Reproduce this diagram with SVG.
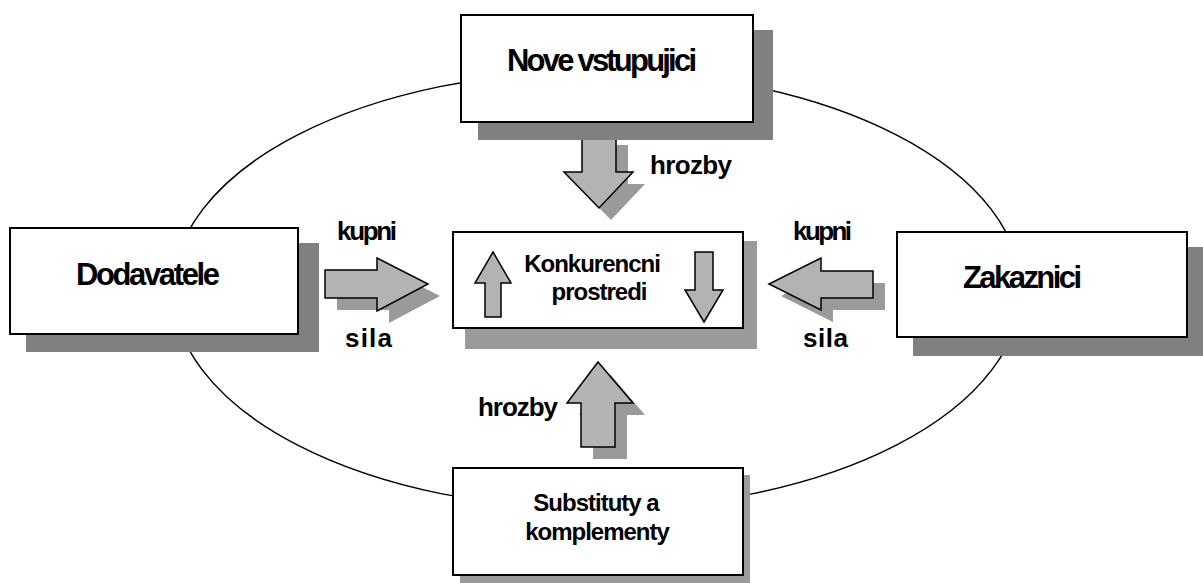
<svg xmlns="http://www.w3.org/2000/svg" width="1203" height="583" viewBox="0 0 1203 583">
<style>
.box{fill:#fff;stroke:#000;stroke-width:2}
.sh1{fill:#808080}
.sh2{fill:#9a9a9a}
.arr{fill:#b3b3b3;stroke:#000;stroke-width:1.5;stroke-linejoin:miter}
.ash{fill:#9a9a9a}
.t{font-family:"Liberation Sans",Arial,sans-serif;font-weight:bold;fill:#000}
.big{font-size:31px}
.two{font-size:24px;letter-spacing:-1px;text-anchor:middle}
.lbl{font-size:26px}
</style>
<rect width="1203" height="583" fill="#fff"/>
<ellipse cx="597" cy="290" rx="424" ry="219" fill="none" stroke="#000" stroke-width="1.5"/>
<g id="connectors">
  <polygon class="ash" points="594,145 628,145 628,184 645,184 611,220 576,184 594,184"/>
  <polygon class="arr" points="582,133 616,133 616,172 633,172 599,208 564,172 582,172"/>
  <polygon class="ash" points="337,282 389,282 389,270 440,296 389,323 389,310 337,310"/>
  <polygon class="arr" points="325,270 377,270 377,258 428,284 377,311 377,298 325,298"/>
  <polygon class="ash" points="885,283 833,283 833,270 781,296 833,322 833,310 885,310"/>
  <polygon class="arr" points="873,271 821,271 821,258 769,284 821,310 821,298 873,298"/>
  <polygon class="ash" points="610,374 645,415 627,415 627,459 593,459 593,415 579,415"/>
  <polygon class="arr" points="598,362 633,403 615,403 615,447 581,447 581,403 567,403"/>
  <text class="t lbl" x="650" y="174" textLength="82">hrozby</text>
  <text class="t lbl" x="337" y="240" textLength="60">kupni</text>
  <text class="t lbl" x="345" y="347" textLength="47">sila</text>
  <text class="t lbl" x="793" y="240" textLength="59">kupni</text>
  <text class="t lbl" x="803" y="347" textLength="45">sila</text>
  <text class="t lbl" x="478" y="416" textLength="80">hrozby</text>
</g>
<g id="node-nove">
  <rect class="sh1" x="478" y="30" width="295" height="110"/>
  <rect class="box" x="461" y="15" width="292" height="107"/>
  <text class="t big" x="507" y="71" textLength="190">Nove vstupujici</text>
</g>
<g id="node-dodavatele">
  <rect class="sh1" x="26" y="243" width="293" height="109"/>
  <rect class="box" x="10" y="228" width="288" height="106"/>
  <text class="t big" x="76" y="285" textLength="144">Dodavatele</text>
</g>
<g id="node-zakaznici">
  <rect class="sh1" x="913" y="247" width="290" height="109"/>
  <rect class="box" x="897" y="232" width="290" height="105"/>
  <text class="t big" x="963" y="288" textLength="119">Zakaznici</text>
</g>
<g id="node-konkurencni">
  <rect class="sh2" x="465" y="241" width="292" height="108"/>
  <rect class="box" x="453" y="232" width="290" height="96"/>
  <text class="t two" x="592" y="272">Konkurencni</text>
  <text class="t two" x="599" y="300">prostredi</text>
  <polygon class="arr" points="493,252 511,283 501,283 501,317 485,317 485,283 475,283"/>
  <polygon class="arr" points="704,322 723,290 713,290 713,252 695,252 695,290 685,290"/>
</g>
<g id="node-substituty">
  <rect class="sh2" x="460" y="475" width="290" height="108"/>
  <rect class="box" x="453" y="468" width="290" height="107"/>
  <text class="t two" x="596" y="511">Substituty a</text>
  <text class="t two" x="597" y="540">komplementy</text>
</g>
</svg>
